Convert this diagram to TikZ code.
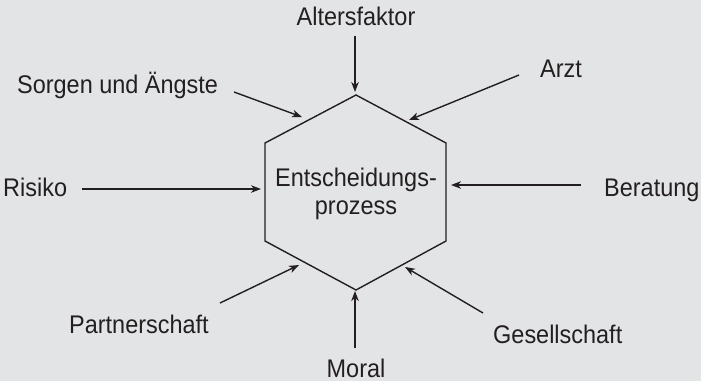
\documentclass[tikz,border=0pt]{standalone}
\usepackage{fontspec}
\setmainfont{Liberation Sans}[FakeStretch=0.92]
\usetikzlibrary{arrows.meta}
\definecolor{bggray}{RGB}{227,228,230}
\definecolor{ink}{RGB}{35,31,32}

\begin{document}
\begin{tikzpicture}[x=1pt,y=-1pt,
	every node/.style={inner sep=0pt,text=ink,font=\fontsize{25.5}{28}\selectfont},
	hexline/.style={draw=ink,line width=1.4pt,line join=miter},
	feed/.style={draw=ink,line width=1.4pt,-{Stealth[length=10pt,width=7.5pt,inset=3pt]}}]
\fill[bggray] (0,0) rectangle (701,381);
\useasboundingbox (0,0) rectangle (701,381);

% hexagon
\draw[hexline] (356,95) coordinate (H1) -- (446,143) coordinate (H2)
	-- (446,241) coordinate (H3) -- (356,290) coordinate (H4)
	-- (265,241) coordinate (H5) -- (265,143) coordinate (H6) -- cycle;
\node[align=center] (prozess) at (356,194) {Entscheidungs-\\prozess};

% labels
\node[anchor=base] (alter) at (356,25) {Altersfaktor};
\node[anchor=base] (arzt) at (561,77) {Arzt};
\node[anchor=base west] (sorgen) at (17,93) {Sorgen und Ängste};
\node[anchor=base west] (risiko) at (3,196) {Risiko};
\node[anchor=base west] (beratung) at (604,196) {Beratung};
\node[anchor=base west] (partner) at (69,333) {Partnerschaft};
\node[anchor=base west] (gesell) at (493,343) {Gesellschaft};
\node[anchor=base] (moral) at (356,377) {Moral};

% arrows: tail and head of each influence
\foreach \n/\ax/\ay/\bx/\by in {alter/355/36/355/92, arzt/519/75/409/120,
	sorgen/234/92/302/117, risiko/82/189/261/189, beratung/581/185/451/185,
	partner/220/303/299/265, moral/355/348/355/291, gesell/483/313/405/267}{
	\coordinate (\n-a) at (\ax,\ay);
	\coordinate (\n-b) at (\bx,\by);
	\draw[feed] (\n-a) -- (\n-b);
}
\end{tikzpicture}
\end{document}
